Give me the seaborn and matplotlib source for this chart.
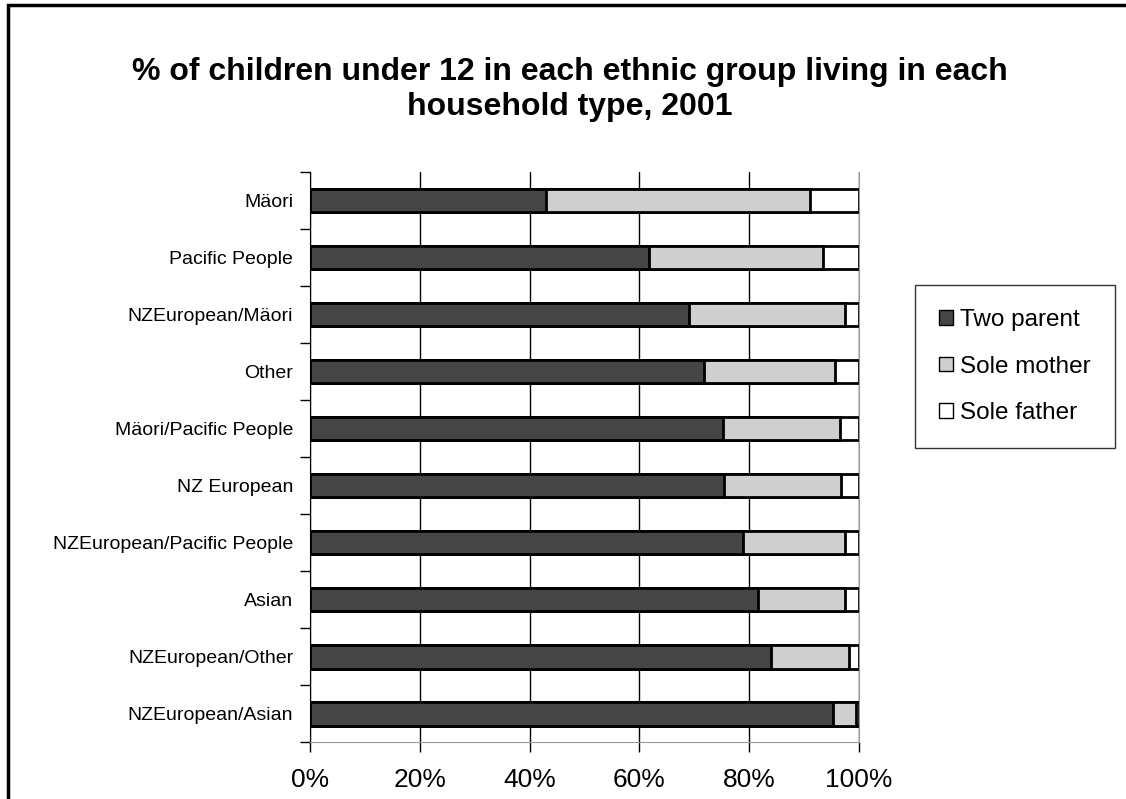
import pandas as pd
import numpy as np
import matplotlib
matplotlib.use('Agg')
import matplotlib.pyplot as plt
import seaborn as sns
from matplotlib.patches import Patch, Rectangle

# data (percent of children)
groups = ['Mäori', 'Pacific People', 'NZEuropean/Mäori', 'Other', 'Mäori/Pacific People',
          'NZ European', 'NZEuropean/Pacific People', 'Asian', 'NZEuropean/Other', 'NZEuropean/Asian']
two_parent = [43.0, 61.7, 69.1, 71.8, 75.3, 75.4, 78.8, 81.6, 84.0, 95.3]
sole_mother = [48.0, 31.8, 28.4, 23.8, 21.2, 21.4, 18.7, 15.9, 14.2, 4.2]
sole_father = [9.0, 6.5, 2.5, 4.4, 3.5, 3.2, 2.5, 2.5, 1.8, 0.5]

series = ['Two parent', 'Sole mother', 'Sole father']
colors = ['#454545', '#cfcfcf', '#ffffff']

df = pd.DataFrame({'group': groups, 'Two parent': two_parent,
                   'Sole mother': sole_mother, 'Sole father': sole_father})
df['cum2'] = df['Two parent'] + df['Sole mother']
df['cum3'] = df['cum2'] + df['Sole father']

sns.set_style('white')
plt.rcParams['font.family'] = ['Liberation Sans', 'DejaVu Sans']
plt.rcParams['text.color'] = 'black'
plt.rcParams['xtick.color'] = 'black'
plt.rcParams['ytick.color'] = 'black'

fig = plt.figure(figsize=(11.26, 7.99), dpi=100)
ax = fig.add_axes([0.2753, 0.0713, 0.4876, 0.7134])

# stacked bars: draw cumulative totals back to front
for col, c in zip(['cum3', 'cum2', 'Two parent'], colors[::-1]):
    sns.barplot(data=df, x=col, y='group', order=groups, orient='h', color=c,
                width=0.42, edgecolor='black', linewidth=2, saturation=1, ax=ax)

ax.set_xlim(0, 100)
ax.set_ylim(len(groups) - 0.5, -0.5)
ax.set_xticks([0, 20, 40, 60, 80, 100])
ax.set_xticklabels([f'{v}%' for v in [0, 20, 40, 60, 80, 100]], fontsize=19)
ax.tick_params(axis='x', direction='out', length=7, width=1, color='black', pad=12, bottom=True)
ax.tick_params(axis='y', which='major', length=0, labelsize=14, pad=12)
ax.set_yticks(np.arange(-0.5, len(groups), 1), minor=True)
ax.tick_params(axis='y', which='minor', direction='out', length=7, width=1, color='black', left=True)
ax.set_xlabel('')
ax.set_ylabel('')
ax.xaxis.grid(True, color='black', linewidth=1)
ax.set_axisbelow(True)
ax.spines['top'].set_visible(False)
ax.spines['right'].set_color('#999999')
ax.spines['left'].set_color('black')
ax.spines['bottom'].set_color('#999999')

fig.text(0.506, 0.888, '% of children under 12 in each ethnic group living in each\nhousehold type, 2001',
         ha='center', va='center', fontsize=23, fontweight='bold', linespacing=1.22)

handles = [Patch(facecolor=c, edgecolor='black', linewidth=1) for c in colors]
leg = fig.legend(handles, series, loc='upper left', bbox_to_anchor=(0.8126, 0.6433),
                 fontsize=17.5, frameon=True, fancybox=False, edgecolor='black',
                 handlelength=0.55, handleheight=0.55, handletextpad=0.3,
                 labelspacing=1.0, borderpad=1.0, borderaxespad=0)
leg.get_frame().set_linewidth(1)

# outer chart border
fig.patches.append(Rectangle((8 / 1126, -0.05), 1.2, 1 - 5 / 799 + 0.05,
                             transform=fig.transFigure, fill=False,
                             edgecolor='black', linewidth=2.5))

fig.savefig('out.png', dpi=100)
